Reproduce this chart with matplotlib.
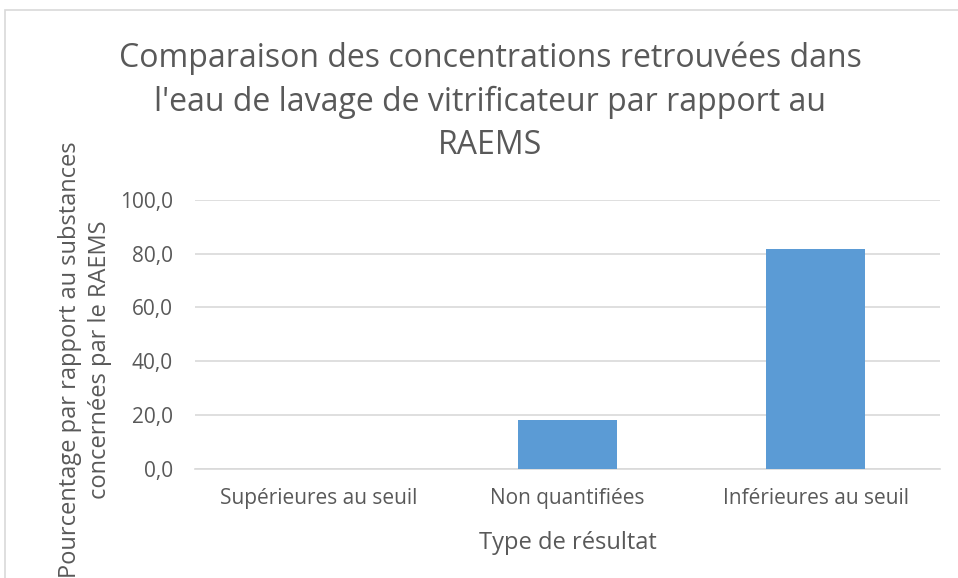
import matplotlib.pyplot as plt
from matplotlib.patches import Rectangle

plt.rcParams['font.family'] = ['Open Sans', 'DejaVu Sans']

categories = ['Supérieures au seuil', 'Non quantifiées', 'Inférieures au seuil']
values = [0.0, 18.2, 81.8]
yticks = [0, 20, 40, 60, 80, 100]

fig = plt.figure(figsize=(9.58, 5.78), dpi=100)
ax = fig.add_axes([0.2035, 0.1894, 0.7775, 0.4646])

x = range(len(categories))
ax.bar(x, values, width=0.40, color='#5b9bd5', zorder=3)

ax.set_xlim(-0.5, 2.5)
ax.set_ylim(0, 100)
ax.set_yticks(yticks)
ax.set_yticklabels([f'{v:.1f}'.replace('.', ',') for v in yticks])
ax.set_xticks(list(x))
ax.set_xticklabels(categories)
ax.tick_params(axis='both', length=0, labelsize=15, colors='#595959')
ax.tick_params(axis='y', pad=16)
ax.tick_params(axis='x', pad=14)
ax.grid(axis='y', color='#d9d9d9', linewidth=1.2, zorder=0)
for s in ['top', 'right', 'left']:
    ax.spines[s].set_visible(False)
ax.spines['bottom'].set_color('#d9d9d9')
ax.spines['bottom'].set_linewidth(1.2)

ax.set_xlabel('Type de résultat', fontsize=17, color='#595959', labelpad=16)
ax.set_ylabel('Pourcentage par rapport au substances\nconcernées par le RAEMS',
              fontsize=17, color='#595959', linespacing=1.3)
ax.yaxis.set_label_coords(-0.112, 0.405)

fig.text(0.512, 0.824, "Comparaison des concentrations retrouvées dans\n"
         "l'eau de lavage de vitrificateur par rapport au\nRAEMS",
         ha='center', va='center', fontsize=23, color='#595959', linespacing=1.4)

# cadre du graphique
fig.patches.append(Rectangle((5 / 958, -0.1), 1.1, 1 - 10 / 578 + 0.1,
                             transform=fig.transFigure, fill=False,
                             edgecolor='#d9d9d9', linewidth=1.2))

fig.savefig('out.png', dpi=100)
